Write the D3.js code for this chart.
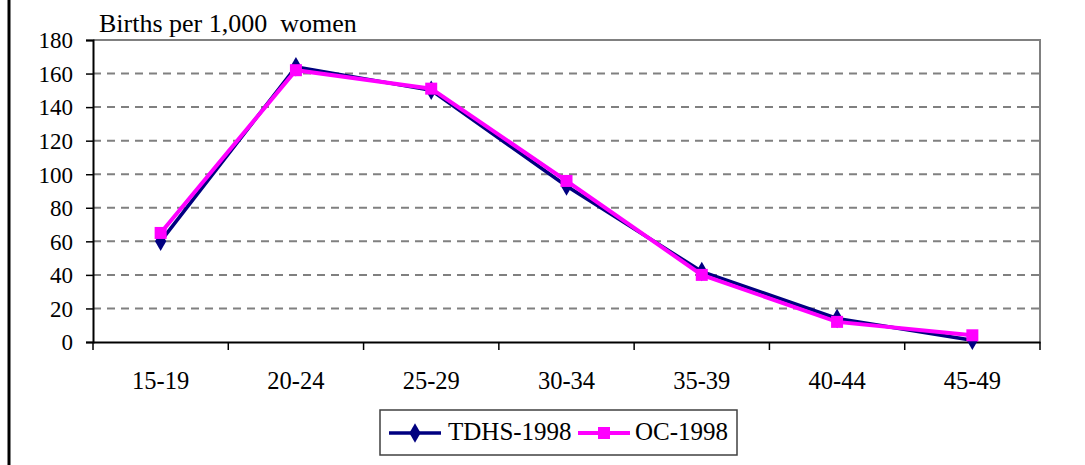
<!DOCTYPE html>
<html><head><meta charset="utf-8">
<script src="https://cdn.jsdelivr.net/npm/d3@7"></script>
</head>
<body style="margin:0;background:#fff">
<svg id="chart" width="1085" height="465" style="display:block"></svg>
<script>
const categories = ["15-19","20-24","25-29","30-34","35-39","40-44","45-49"];
const tdhs = [60,164,150,93,42,14,1];
const oc = [65,162,151,96,40,12,4];
const yTicks = [0,20,40,60,80,100,120,140,160,180];
const yTitle = "Births per 1,000  women";
const seriesNames = ["TDHS-1998","OC-1998"];

const FONT = "Liberation Serif";
const svg = d3.select("#chart");
const L=93, R=1040, T=40, B=342;
const x = d3.scaleBand().domain(categories).range([L,R]);
const y = d3.scaleLinear().domain([0,180]).range([B,T]);

// outer left border
svg.append("line").attr("x1",9).attr("x2",9).attr("y1",0).attr("y2",465)
  .attr("stroke","#000").attr("stroke-width",3);

// gridlines
svg.append("g").selectAll("line").data(yTicks.filter(d=>d>0&&d<180)).join("line")
  .attr("x1",L).attr("x2",R).attr("y1",d=>y(d)).attr("y2",d=>y(d))
  .attr("stroke","#808080").attr("stroke-width",2).attr("stroke-dasharray","8,6");

// plot border top/right
svg.append("path").attr("d",`M${L},${T}H${R}V${B}`).attr("fill","none")
  .attr("stroke","#808080").attr("stroke-width",2);

// y axis
const yAxis = svg.append("g").attr("transform",`translate(${L},0)`)
  .call(d3.axisLeft(y).tickValues(yTicks).tickSize(7).tickPadding(13))
  .attr("font-family",FONT).attr("font-size",23);
yAxis.select(".domain").attr("stroke","#000").attr("stroke-width",2);
yAxis.selectAll(".tick line").attr("stroke","#000").attr("stroke-width",1.5);
yAxis.selectAll("text").attr("fill","#000").attr("dy","0.34em");

// x axis
const xAxis = svg.append("g").attr("transform",`translate(0,${B})`)
  .call(d3.axisBottom(x).tickSize(0).tickPadding(0))
  .attr("font-family",FONT).attr("font-size",24.5);
xAxis.select(".domain").attr("stroke","#000").attr("stroke-width",2);
xAxis.selectAll("text").attr("fill","#000").attr("dy",null).attr("y",47);
const bounds = categories.map(c=>x(c)).concat([R]);
svg.append("g").selectAll("line").data(bounds).join("line")
  .attr("x1",d=>d).attr("x2",d=>d).attr("y1",B).attr("y2",B+8)
  .attr("stroke","#000").attr("stroke-width",1.5);

// y title
svg.append("text").attr("x",99).attr("y",31.5).attr("font-family",FONT).attr("font-size",26)
  .style("white-space","pre").text(yTitle);

const cx = c => x(c)+x.bandwidth()/2;
const line = d3.line().x((d,i)=>cx(categories[i])).y(d=>y(d));

svg.append("path").datum(tdhs).attr("d",line).attr("fill","none")
  .attr("stroke","#000080").attr("stroke-width",3.5);
const diamond = d3.symbol().type(d3.symbolDiamond).size(110);
svg.append("g").selectAll("path").data(tdhs).join("path")
  .attr("d",diamond).attr("transform",(d,i)=>`translate(${cx(categories[i])},${y(d)})`)
  .attr("fill","#000080");

svg.append("path").datum(oc).attr("d",line).attr("fill","none")
  .attr("stroke","#FF00FF").attr("stroke-width",4);
svg.append("g").selectAll("rect").data(oc).join("rect")
  .attr("x",(d,i)=>cx(categories[i])-6).attr("y",d=>y(d)-6)
  .attr("width",12).attr("height",12).attr("fill","#FF00FF");

// legend
const lg = svg.append("g");
lg.append("rect").attr("x",380).attr("y",410).attr("width",357).attr("height",45)
  .attr("fill","#fff").attr("stroke","#404040").attr("stroke-width",1.5);
const ly = 433;
lg.append("line").attr("x1",389).attr("x2",441).attr("y1",ly).attr("y2",ly)
  .attr("stroke","#000080").attr("stroke-width",3.5);
lg.append("path").attr("d",diamond).attr("transform",`translate(415,${ly})`).attr("fill","#000080");
lg.append("text").attr("x",448).attr("y",440).attr("font-family",FONT).attr("font-size",25).text(seriesNames[0]);
lg.append("line").attr("x1",578).attr("x2",630).attr("y1",ly).attr("y2",ly)
  .attr("stroke","#FF00FF").attr("stroke-width",4);
lg.append("rect").attr("x",598).attr("y",ly-6).attr("width",12).attr("height",12).attr("fill","#FF00FF");
lg.append("text").attr("x",635).attr("y",440).attr("font-family",FONT).attr("font-size",25).text(seriesNames[1]);
</script>
</body></html>
